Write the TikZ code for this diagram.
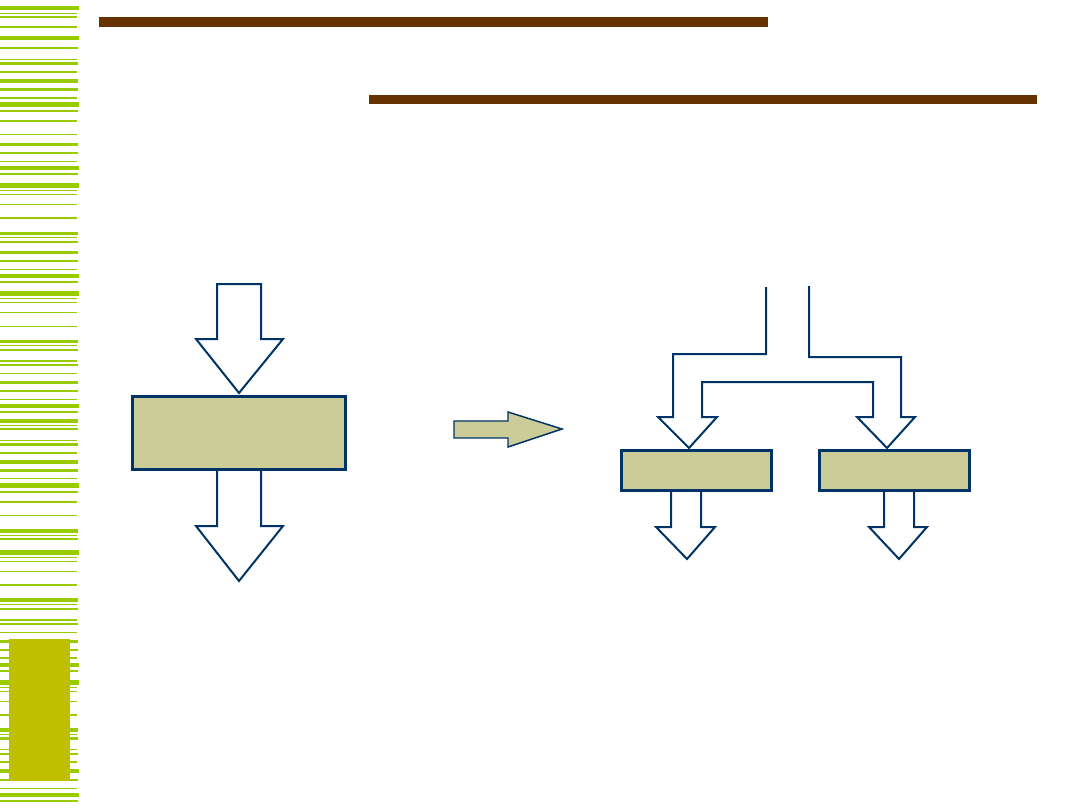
\documentclass[tikz,border=0pt]{standalone}
\usepackage{tikz}
\usetikzlibrary{positioning}
\definecolor{flownavy}{HTML}{003366}
\definecolor{flowkhaki}{HTML}{CCCC99}
\definecolor{barbrown}{HTML}{663300}
\definecolor{stripegreen}{HTML}{99CC00}
\definecolor{tabolive}{HTML}{BFBF00}
\begin{document}
\begin{tikzpicture}[x=0.75pt, y=-0.75pt,
  stripe/.style={fill=stripegreen},
  titlebar/.style={fill=barbrown},
  flowbox/.style={draw=flownavy, line width=2.25pt, fill=flowkhaki, rectangle, inner sep=0pt},
  blockarrow/.style={draw=flownavy, line width=1.5pt, fill=white, line join=miter},
  stepper/.style={draw=flownavy, line width=1.1pt, fill=flowkhaki, line join=miter}]
\useasboundingbox (0,0) rectangle (1080,810);
\foreach \y/\h/\w in {6/4/79, 13/1/77, 16/1.5/77, 26/1.5/77, 36/4/79, 47/2/78, 59/1/77, 62/2.5/78,
  71/1.5/77, 79/3.5/78, 88/2.5/78, 97/1.5/77, 102/5/79, 110/2/78, 120/1.5/77, 134/1/77, 143/2.5/78,
  152/1.5/78, 161/1/77, 166/4/79, 173/2/78, 183/4.5/79, 190/1/77, 194/1/77, 204/1/77, 217/2/77,
  232/2.5/78, 237/1/77, 241/2/78, 251/3/78, 260/2/78, 269/1/77, 274/4/79, 281/2/78, 291/5/79,
  298/1/77, 302/1/77, 312/1/77, 326/1/77, 340/3/78, 345/1/77, 349/2/78, 360/1.5/77, 364/2/78,
  373/1/77, 381/3/78, 390/2/78, 399/1/77, 404/4/79, 411/2/78, 419/4/78, 425/1/77, 428/2/78,
  440/1/77, 443/3/78, 452/2/77, 460/4/78, 469/3/78, 478/1/77, 483/5/79, 491/2/78, 501/2/77,
  515/1/77, 529/4/78, 535/1/77, 538/2/78, 550/5/79, 557/1/77, 561/1/77, 571/1/77, 584/2/77,
  598/4/78, 604/1/77, 608/2/78, 619/2/77, 623/2/78, 632/1/77, 640/3/78, 649/2/78, 657/2/77,
  663/4/79, 670/2/78, 680/5/79, 687/1/77, 691/1/77, 701/1/77, 714/2/77, 728/4/78, 734/1/77,
  737/3/78, 749/1/77, 753/2/78, 761/2/77, 769/4/79, 779/2/78, 788/1/77, 793/4/79, 800/2/78}
  \fill[stripe] (0,\y) rectangle (\w,\y+\h);
\fill[tabolive] (9,639) rectangle (70,781);
\fill[titlebar] (99,17) rectangle (768,27);
\fill[titlebar] (369,95) rectangle (1037,104);

\draw[blockarrow] (217,284) -- (261,284) -- (261,339) -- (283,339) -- (239,393) -- (196,339) -- (217,339) -- cycle;
\draw[blockarrow] (217,468) -- (217,526) -- (196,526) -- (239,581) -- (283,526) -- (261,526) -- (261,468);
\node[flowbox, minimum width=213*0.75pt, minimum height=73*0.75pt] (mixer) at (239,433) {};

\draw[stepper] (454,421) -- (508,421) -- (508,412) -- (562,429) -- (508,447) -- (508,438) -- (454,438) -- cycle;

\draw[blockarrow] (766,287) -- (766,354) -- (673,354) -- (673,417) -- (658,417) -- (689,448)
  -- (717,417) -- (702,417) -- (702,382) -- (873,382) -- (873,417) -- (857,417) -- (887,448)
  -- (915,417) -- (901,417) -- (901,357) -- (809,357) -- (809,286);
\draw[blockarrow] (671,489) -- (671,527) -- (656,527) -- (687,559) -- (715,527) -- (701,527) -- (701,489);
\draw[blockarrow] (884,489) -- (884,527) -- (869,527) -- (899,559) -- (927,527) -- (914,527) -- (914,489);
\node[flowbox, minimum width=150*0.75pt, minimum height=40*0.75pt] (splitl) at (696.5,470.5) {};
\node[flowbox, minimum width=150*0.75pt, minimum height=40*0.75pt] (splitr) at (894.5,470.5) {};
\end{tikzpicture}
\end{document}
